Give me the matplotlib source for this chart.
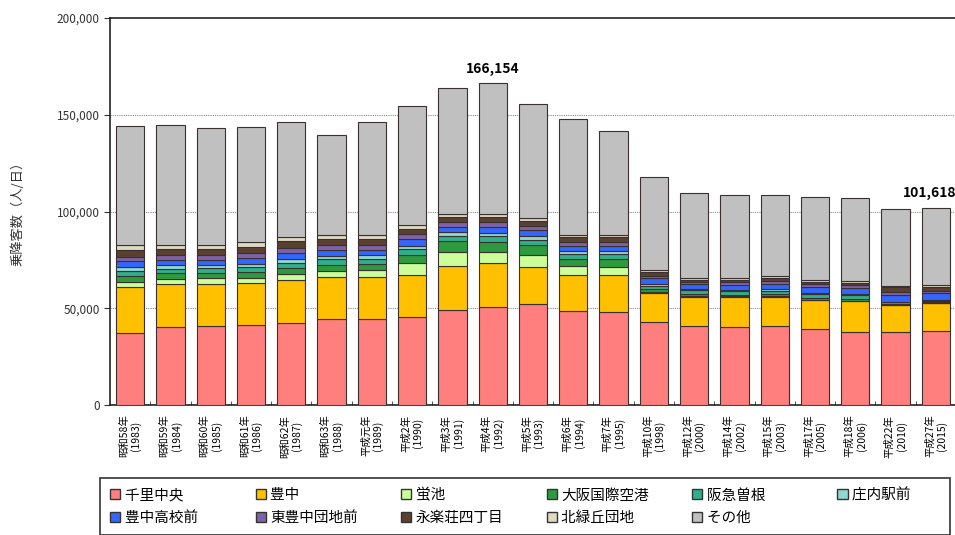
import matplotlib
matplotlib.use("Agg")
import matplotlib.pyplot as plt
from matplotlib.patches import Patch

plt.rcParams['font.family'] = ['Noto Sans CJK JP', 'DejaVu Sans']

# Tick labels (era year + western year)
years = ["昭和58年\n(1983)", "昭和59年\n(1984)", "昭和60年\n(1985)", "昭和61年\n(1986)",
         "昭和62年\n(1987)", "昭和63年\n(1988)", "平成元年\n(1989)", "平成2年\n(1990)",
         "平成3年\n(1991)", "平成4年\n(1992)", "平成5年\n(1993)", "平成6年\n(1994)",
         "平成7年\n(1995)", "平成10年\n(1998)", "平成12年\n(2000)", "平成14年\n(2002)",
         "平成15年\n(2003)", "平成17年\n(2005)", "平成18年\n(2006)", "平成22年\n(2010)",
         "平成27年\n(2015)"]

# Passengers per day by stop
senri_chuo = [37200, 40300, 40800, 41300, 42400, 44400, 44400, 45500, 49100, 50600, 52200,
              48600, 48100, 42900, 40800, 40300, 40800, 39300, 37700, 37700, 38200]
toyonaka = [23800, 22200, 21700, 21700, 22200, 21700, 21700, 21700, 22700, 22800, 19100,
            18600, 19100, 15000, 15000, 15500, 15000, 15000, 16000, 14000, 14500]
hotarugaike = [2800, 2800, 2900, 2700, 3000, 3300, 3600, 6200, 7200, 5600, 6200,
               4600, 4300, 600, 400, 300, 300, 200, 200, 200, 200]
itami_airport = [3000, 2800, 2800, 3000, 3200, 3200, 3300, 4200, 5500, 5300, 5000,
                 3800, 3800, 1400, 1200, 1000, 1100, 700, 700, 500, 500]
hankyu_sone = [2600, 2400, 2400, 2600, 2800, 2700, 2700, 3000, 3000, 3100, 3000,
               2600, 2700, 1800, 1800, 1700, 1900, 2100, 2100, 600, 600]
shonai_eki = [1800, 1700, 1600, 1700, 1800, 1700, 1600, 1800, 1700, 1700, 1700,
              1500, 1500, 700, 600, 600, 600, 500, 500, 400, 400]
koko_mae = [3000, 2800, 2800, 3000, 3200, 3000, 2900, 3200, 3000, 3000, 3000,
            2700, 2800, 3000, 2600, 2800, 2900, 3300, 3400, 3200, 3300]
higashi_danchi = [2500, 2400, 2500, 2700, 2700, 2600, 2500, 2600, 2400, 2500, 2400,
                  2000, 2100, 1200, 1000, 1200, 1300, 1300, 1300, 1600, 1400]
eirakuso = [3600, 3200, 3100, 3200, 3300, 3200, 3100, 2900, 2500, 2400, 2500,
            2200, 2200, 2200, 1300, 1400, 1700, 1300, 1300, 2600, 2100]
kitamidori = [2400, 2100, 2100, 2300, 2200, 2100, 2100, 1900, 1600, 1600, 1500,
              1300, 1300, 1000, 900, 800, 1100, 900, 900, 700, 800]
others = [61300, 62000, 60400, 59500, 59500, 51600, 58400, 61500, 65100, 67554, 58900,
          59900, 53700, 48000, 44000, 42900, 41800, 42900, 42900, 39800, 39618]

names = ["千里中央", "豊中", "蛍池", "大阪国際空港", "阪急曽根", "庄内駅前",
         "豊中高校前", "東豊中団地前", "永楽荘四丁目", "北緑丘団地", "その他"]
series = [senri_chuo, toyonaka, hotarugaike, itami_airport, hankyu_sone, shonai_eki,
          koko_mae, higashi_danchi, eirakuso, kitamidori, others]
colors = ["#FF7F7F", "#FFC000", "#CCFF99", "#2E9A3E", "#2FB08C", "#8FD8D2",
          "#3366FF", "#7E62A8", "#5A4030", "#DDD9C3", "#C0C0C0"]

fig = plt.figure(figsize=(9.55, 5.35), dpi=100)
ax = fig.add_axes([110 / 955, 1 - 405 / 535, 846 / 955, 387 / 535])

x = list(range(len(years)))
bottom = [0] * len(years)
for vals, name, col in zip(series, names, colors):
    ax.bar(x, vals, 0.7, bottom=bottom, color=col, edgecolor="#3a3030",
           linewidth=0.8, label=name, zorder=3)
    bottom = [b + v for b, v in zip(bottom, vals)]

ax.set_xlim(-0.5, len(years) - 0.5)
ax.set_ylim(0, 200000)
ax.set_yticks([0, 50000, 100000, 150000, 200000])
ax.set_yticklabels(["0", "50,000", "100,000", "150,000", "200,000"],
                   fontsize=8.5, color="#333333")
for yv in [50000, 100000, 150000]:
    ax.axhline(yv, color="#8a8a8a", linestyle=(0, (1, 1)), linewidth=0.8, zorder=1)

ax.set_xticks(x)
ax.set_xticklabels(years, rotation=90, fontsize=7.5, linespacing=1.15, va="top")
ax.tick_params(axis="x", length=0, pad=7)
ax.set_xticks([i + 0.5 for i in x[:-1]], minor=True)
ax.tick_params(axis="x", which="minor", length=3, direction="in", color="#333333")
ax.tick_params(axis="y", length=4, direction="out", color="#333333")

ax.spines["right"].set_visible(False)
for s in ["left", "top", "bottom"]:
    ax.spines[s].set_color("#222222")
    ax.spines[s].set_linewidth(1.2)

fig.text(18 / 955, 1 - 210 / 535, "乗降客数（人/日）", rotation=90, fontsize=9.5,
         ha="center", va="center", color="#333333")

# totals of the peak and the latest year
ax.text(9, bottom[9] + 4000, "166,154", ha="center", va="bottom",
        fontsize=10, fontweight="bold")
ax.text(20 - 0.15, bottom[20] + 4500, "101,618", ha="center", va="bottom",
        fontsize=10, fontweight="bold")

# legend: row-major order, labels padded so all columns get the same width
handles = [Patch(facecolor=c, edgecolor="#333333", linewidth=1.0) for c in colors]
labels = [n + "\u3000" * (6 - len(n)) for n in names]
order = [0, 6, 1, 7, 2, 8, 3, 9, 4, 10, 5]
leg = fig.legend([handles[i] for i in order], [labels[i] for i in order],
                 ncol=6, loc="upper left",
                 bbox_to_anchor=(100 / 955, 1 - 478 / 535, 850 / 955, 0),
                 mode="expand", borderaxespad=0, fontsize=10.5,
                 handlelength=0.7, handleheight=0.7,
                 handletextpad=0.3, borderpad=0.7, labelspacing=0.6,
                 fancybox=False, edgecolor="#333333", framealpha=1)
leg.get_frame().set_linewidth(1.2)

fig.savefig("out.png", dpi=100)
